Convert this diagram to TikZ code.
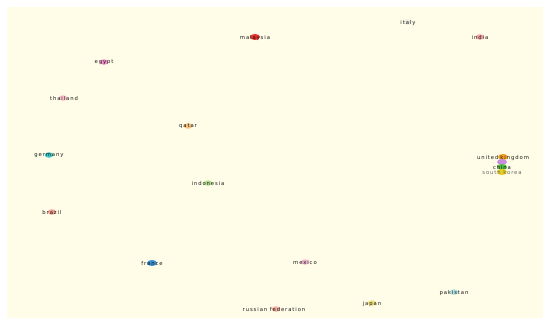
\documentclass[tikz,border=0pt]{standalone}
\usepackage{fontspec}
\usetikzlibrary{shapes.geometric}
\newfontfamily\lblfont[LetterSpace=17]{DejaVu Sans}
\definecolor{bgyellow}{RGB}{255,253,232}
\definecolor{cmalaysia}{RGB}{232,48,42}
\definecolor{cindia}{RGB}{244,163,160}
\definecolor{cegypt}{RGB}{240,140,200}
\definecolor{cthailand}{RGB}{249,192,200}
\definecolor{cqatar}{RGB}{248,194,122}
\definecolor{cgermany}{RGB}{60,200,200}
\definecolor{cuk}{RGB}{245,160,32}
\definecolor{cpurple}{RGB}{200,140,220}
\definecolor{cchina}{RGB}{80,192,64}
\definecolor{ckorea}{RGB}{232,208,32}
\definecolor{cindonesia}{RGB}{184,224,144}
\definecolor{cbrazil}{RGB}{240,160,144}
\definecolor{cfrance}{RGB}{58,144,208}
\definecolor{cmexico}{RGB}{240,184,208}
\definecolor{cpakistan}{RGB}{176,224,224}
\definecolor{cjapan}{RGB}{240,224,128}
\definecolor{crussia}{RGB}{244,176,160}
\definecolor{citaly}{RGB}{235,235,225}
\begin{document}
\begin{tikzpicture}[x=1pt,y=-1pt,
  dot/.style={ellipse,draw=none,inner sep=0pt,minimum width=8.5pt,minimum height=5.5pt},
  bigdot/.style={dot,minimum width=10pt,minimum height=6pt},
  lbl/.style={inner sep=0pt,yshift=-0.6pt,font=\lblfont\fontsize{5.3}{6}\selectfont,text=black!90}]
\useasboundingbox (0,0) rectangle (550,324);
\fill[white] (0,0) rectangle (550,324);
\fill[bgyellow] (7,7) rectangle (543,318);
% nodes
\node[dot,fill=citaly] (italy) at (408,22) {};
\node[bigdot,fill=cmalaysia] (malaysia) at (255,37) {};
\node[dot,fill=cindia] (india) at (480,37) {};
\node[dot,fill=cegypt] (egypt) at (104,62) {};
\node[dot,fill=cthailand] (thailand) at (63,98) {};
\node[dot,fill=cqatar] (qatar) at (188,126) {};
\node[dot,fill=cgermany] (germany) at (49,155) {};
\node[bigdot,fill=cuk] (uk) at (503,157) {};
\node[bigdot,fill=cpurple] (purple) at (502,162) {};
\node[bigdot,fill=cchina] (china) at (502,167) {};
\node[bigdot,fill=ckorea] (korea) at (502,172) {};
\node[dot,fill=cindonesia] (indonesia) at (208,183) {};
\node[dot,fill=cbrazil] (brazil) at (52,212) {};
\node[bigdot,fill=cfrance] (france) at (152,263) {};
\node[dot,fill=cmexico] (mexico) at (305,262) {};
\node[dot,fill=cpakistan] (pakistan) at (454,292) {};
\node[dot,fill=cjapan] (japan) at (372,303) {};
\node[dot,fill=crussia] (russia) at (276,309) {};
% labels
\node[lbl] (litaly) at (italy) {italy};
\node[lbl] (lmalaysia) at (malaysia) {malaysia};
\node[lbl] (lindia) at (india) {india};
\node[lbl] (legypt) at (egypt) {egypt};
\node[lbl] (lthailand) at (64,98) {thailand};
\node[lbl] (lqatar) at (qatar) {qatar};
\node[lbl] (lgermany) at (germany) {germany};
\node[lbl] (luk) at (503,157) {united\hspace{2pt}kingdom};
\node[lbl] (lchina) at (china) {china};
\node[lbl,text=black!60] (lkorea) at (korea) {south korea};
\node[lbl] (lindonesia) at (indonesia) {indonesia};
\node[lbl] (lbrazil) at (brazil) {brazil};
\node[lbl] (lfrance) at (france) {france};
\node[lbl] (lmexico) at (mexico) {mexico};
\node[lbl] (lpakistan) at (pakistan) {pakistan};
\node[lbl] (ljapan) at (japan) {japan};
\node[lbl] (lrussia) at (274,309) {russian federation};
\end{tikzpicture}
\end{document}
